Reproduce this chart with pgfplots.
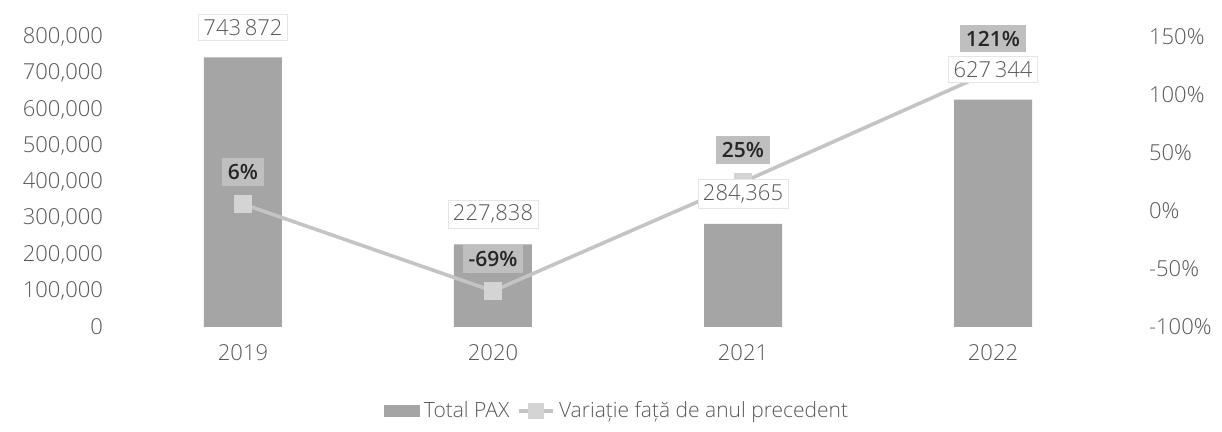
\documentclass[border=0pt]{standalone}
\usepackage{pgfplots}
\pgfplotsset{compat=1.18}
\usepackage{fontspec}
\setmainfont{Open Sans}[UprightFont={* Light}, BoldFont={* Semibold}]
\definecolor{bargray}{HTML}{A5A5A5}
\definecolor{linegray}{HTML}{C4C4C4}
\definecolor{markfill}{HTML}{D4D4D4}
\definecolor{txtgray}{HTML}{595959}
\definecolor{boxgray}{HTML}{BFBFBF}
\begin{document}
\begin{tikzpicture}
\path[use as bounding box] (-59pt,-52.5pt) rectangle (552pt,163.5pt);
\pgfplotsset{
  common/.style={
    scale only axis, width=500pt, height=145pt,
    xmin=-0.5, xmax=3.5,
    axis line style={draw=none},
    major tick style={draw=none},
    /pgf/number format/assume math mode=true,
    ticklabel style={font=\fontsize{11}{13}\selectfont, text=txtgray},
  }
}
% bars
\begin{axis}[common,
  ymin=0, ymax=800000, ytick distance=100000,
  scaled y ticks=false,
  yticklabel style={/pgf/number format/fixed, /pgf/number format/1000 sep={,}, xshift=-4pt},
  xtick=data, xticklabels={2019,2020,2021,2022},
  xticklabel style={yshift=-5pt},
  legend style={draw=none, at={(0.5,-0.29)}, anchor=center, legend columns=2,
    font=\fontsize{10.5}{12}\selectfont, text=txtgray,
    /tikz/every even column/.append style={column sep=2pt}},
  ]
\addplot[ybar, bar width=39pt, fill=bargray, draw=none,
  legend image code/.code={\fill[bargray] (0pt,-3pt) rectangle (18pt,3pt);}]
  coordinates {(0,743872) (1,227838) (2,284365) (3,627344)};
\addlegendentry{Total PAX}
\addlegendimage{linegray, line width=1.8pt, mark=square*, mark size=3pt, mark options={fill=markfill, draw=markfill}}
\addlegendentry{Variație față de anul precedent}
\end{axis}
% line
\begin{axis}[common,
  axis y line*=right,
  ymin=-100, ymax=150, ytick distance=50,
  yticklabel={\pgfmathprintnumber{\tick}\%},
  yticklabel style={anchor=west, xshift=12pt},
  xtick=\empty,
  ]
\addplot[linegray, line width=1.8pt, mark=square*, mark size=3.5pt,
  mark options={fill=markfill, draw=markfill},
  point meta=explicit symbolic, nodes near coords,
  nodes near coords style={font=\bfseries\fontsize{10.5}{12}\selectfont, fill=boxgray,
    text=black!85, anchor=center, yshift=16pt, inner sep=3pt}]
  coordinates {(0,6)[6\%] (1,-69)[-69\%] (2,25)[25\%] (3,121)[121\%]};
\end{axis}
% bar value labels on top
\begin{axis}[common, hide axis, ymin=0, ymax=800000]
\addplot[ybar, bar width=39pt, draw=none, fill=none, forget plot,
  point meta=explicit symbolic, nodes near coords,
  nodes near coords style={font=\fontsize{11}{13}\selectfont, text=txtgray,
    fill=white, draw=gray!20, inner sep=2.5pt, anchor=center, yshift=15pt}]
  coordinates {(0,743872)[743\,872] (1,227838)[227,838] (2,284365)[284,365] (3,627344)[627\,344]};
\end{axis}
\end{tikzpicture}
\end{document}
